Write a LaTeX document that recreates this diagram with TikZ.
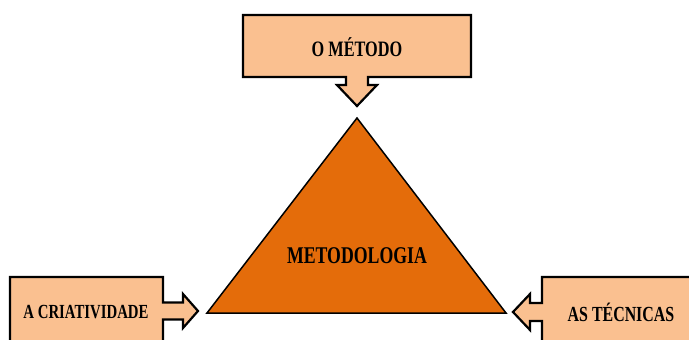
\documentclass[tikz,border=0pt]{standalone}
\usepackage{fontspec}
\setmainfont{Liberation Serif}
\definecolor{boxfill}{HTML}{FAC090}
\definecolor{trifill}{HTML}{E46C0A}
\begin{document}
\begin{tikzpicture}[x=1pt,y=-1pt,
  callout/.style={draw=black,line width=2.2pt,fill=boxfill,line join=miter},
  tri/.style={draw=black,line width=1.5pt,fill=trifill,line join=miter},
  lbl/.style={font=\bfseries,inner sep=0pt,xscale=0.74}]
\useasboundingbox (0,0) rectangle (689,340);
\clip (0,0) rectangle (689,340);
\fill[white] (0,0) rectangle (689,340);
% triangle
\draw[tri] (357,118) -- (506,313) -- (207,313) -- cycle;
\node[lbl,font=\fontsize{24}{24}\bfseries] (meto) at (357,256) {METODOLOGIA};
% top callout
\draw[callout] (243,15) -- (471,15) -- (471,77) -- (368,77) -- (368,85) -- (377,85) -- (357,106) -- (337,85) -- (346,85) -- (346,77) -- (243,77) -- cycle;
\node[lbl,font=\fontsize{22}{22}\bfseries] (metodo) at (357,47) {O MÉTODO};
% left callout
\draw[callout] (10,277) -- (163,277) -- (163,302.5) -- (183,302.5) -- (183,294) -- (198,311) -- (183,328) -- (183,319.5) -- (163,319.5) -- (163,360) -- (10,360) -- cycle;
\node[lbl,font=\fontsize{20}{20}\bfseries] (criat) at (86,312) {A CRIATIVIDADE};
% right callout
\draw[callout] (542,277) -- (700,277) -- (700,360) -- (542,360) -- (542,321) -- (530,321) -- (530,330) -- (513,312) -- (530,294) -- (530,303) -- (542,303) -- cycle;
\node[lbl,font=\fontsize{21.5}{21.5}\bfseries] (tecn) at (621,312) {AS TÉCNICAS};
\end{tikzpicture}
\end{document}
